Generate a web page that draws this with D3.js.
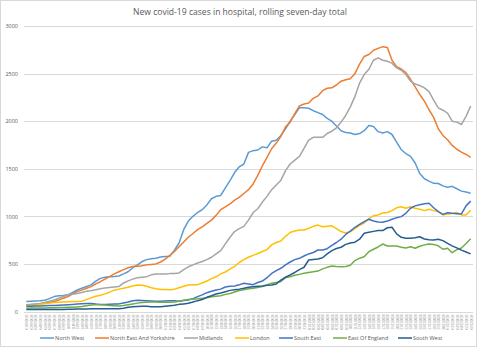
<!DOCTYPE html>
<html lang="en">
<head>
  <meta charset="UTF-8">
  <title>New covid-19 cases in hospital</title>
  <script src="https://d3js.org/d3.v7.min.js"></script>
  <style>
    body { margin: 0; background: #fff; }
    svg { display: block; font-family: "Open Sans", "Liberation Sans", sans-serif; }
    .grid line { stroke: #d9d9d9; stroke-width: 1px; }
    .line { fill: none; stroke-width: 1.5px; stroke-linejoin: round; }
  </style>
</head>
<body>
  <svg width="480" height="348"></svg>
  <script>
    // 97 daily points, rolling seven-day totals
    const startDate = '2020-09-01';
    const dayCount = 97;
    const yTicks = [0, 500, 1000, 1500, 2000, 2500, 3000];
    const regions = ['North West', 'North East And Yorkshire', 'Midlands', 'London', 'South East', 'East Of England', 'South West'];
    const colors = ['#5B9BD5', '#ED7D31', '#A5A5A5', '#FFC000', '#4472C4', '#70AD47', '#255E91'];

    const northWest = [105,108,110,112,118,135,157,165,168,175,
      200,226,245,262,280,320,348,360,366,368,
      373,395,418,460,490,525,545,555,560,572,
      578,580,645,720,860,950,1000,1040,1070,1120,
      1185,1210,1220,1300,1376,1460,1520,1550,1672,1690,
      1697,1730,1720,1790,1800,1850,1920,2000,2070,2140,
      2140,2136,2110,2090,2070,2030,2000,1950,1900,1880,
      1875,1860,1870,1900,1955,1945,1890,1875,1890,1860,
      1780,1700,1660,1630,1560,1450,1395,1370,1347,1345,
      1320,1305,1315,1290,1265,1255,1242];
    const northEastYorks = [70,72,75,82,88,95,105,120,140,157,
      185,209,225,245,261,290,313,340,366,395,
      418,440,460,472,476,480,490,495,500,520,
      550,590,630,680,730,780,820,860,890,925,
      960,1010,1070,1100,1130,1170,1200,1240,1280,1340,
      1430,1530,1620,1710,1770,1840,1940,1990,2080,2160,
      2180,2190,2240,2265,2320,2346,2350,2380,2420,2435,
      2445,2500,2600,2680,2700,2745,2765,2783,2775,2640,
      2573,2548,2510,2440,2360,2280,2210,2120,2040,1920,
      1850,1805,1745,1705,1675,1650,1620];
    const midlands = [72,75,80,85,95,108,121,140,158,173,
      182,190,200,212,219,228,238,246,252,258,
      262,300,322,340,355,360,366,385,394,394,
      394,398,400,405,440,470,490,510,525,545,
      570,605,640,710,780,840,870,895,960,1040,
      1080,1150,1210,1280,1330,1380,1480,1550,1590,1630,
      1715,1800,1830,1832,1830,1870,1895,1930,1990,2060,
      2150,2260,2400,2490,2545,2640,2665,2640,2630,2610,
      2560,2535,2490,2420,2390,2375,2350,2310,2220,2140,
      2115,2085,2000,1990,1965,2050,2160];
    const london = [55,60,65,75,82,88,95,98,100,103,
      105,106,108,125,143,161,171,185,203,224,
      235,245,255,268,278,275,266,250,238,232,
      231,228,235,250,265,279,280,282,300,320,
      345,365,395,415,445,475,515,545,570,590,
      610,630,650,700,725,741,790,830,845,857,
      857,875,895,908,890,895,900,870,840,825,
      840,870,905,930,975,1005,1015,1035,1040,1060,
      1090,1100,1085,1100,1085,1075,1060,1075,1060,1050,
      1015,1025,1030,1040,1015,1015,1065];
    const southEast = [55,56,57,58,60,62,63,65,67,70,
      74,78,82,85,84,78,74,73,75,78,
      80,90,100,112,118,115,112,110,108,107,
      110,112,112,108,115,121,135,156,175,198,
      212,226,235,258,265,268,280,296,290,282,
      305,320,355,400,430,454,490,520,545,559,
      583,605,620,646,646,660,695,725,760,810,
      845,885,915,944,969,951,940,937,950,969,
      986,997,1032,1085,1110,1122,1132,1137,1090,1049,
      1021,1038,1032,1028,1025,1110,1160];
    const eastOfEngland = [35,36,37,38,38,40,40,42,42,44,
      45,48,52,60,68,70,70,68,62,60,
      58,62,72,80,88,94,98,100,100,98,
      96,98,100,108,118,125,130,133,138,145,
      155,160,165,180,190,205,220,228,240,245,
      252,262,280,296,305,315,356,365,380,390,
      401,410,418,425,448,464,478,472,470,472,
      485,535,560,576,629,654,678,709,688,688,
      688,675,668,680,664,685,700,709,705,690,
      654,664,618,650,668,715,765];
    const southWest = [20,20,20,20,20,21,21,22,22,23,
      24,25,25,25,28,28,28,28,28,28,
      28,35,45,50,52,55,55,50,50,50,
      55,60,65,75,80,86,100,114,125,149,
      165,184,195,208,222,228,235,244,255,261,
      265,268,275,279,290,330,360,384,410,440,
      465,541,546,552,565,605,640,662,675,705,
      720,728,760,822,832,842,850,850,880,885,
      815,780,769,769,775,785,762,755,752,759,
      745,715,690,668,645,625,605];

    const seriesValues = [northWest, northEastYorks, midlands, london, southEast, eastOfEngland, southWest];

    const fmt = d3.timeFormat('%d/%m/%Y');
    const start = d3.timeParse('%Y-%m-%d')(startDate);
    const dates = d3.range(dayCount).map(i => fmt(d3.timeDay.offset(start, i)));

    const svg = d3.select('svg');
    const plotLeft = 24, plotRight = 473, plotTop = 26, plotBottom = 311.5;

    // chart border
    svg.append('rect')
      .attr('x', 0.5).attr('y', 0.5).attr('width', 476).attr('height', 346)
      .attr('fill', '#fff').attr('stroke', '#d9d9d9');

    svg.append('text')
      .attr('x', 240).attr('y', 15)
      .attr('text-anchor', 'middle')
      .attr('font-size', 8.6)
      .attr('fill', '#595959')
      .attr('textLength', 214).attr('lengthAdjust', 'spacingAndGlyphs')
      .text('New covid-19 cases in hospital, rolling seven-day total');

    const x = d3.scalePoint().domain(dates).range([plotLeft, plotRight]).padding(0.5);
    const y = d3.scaleLinear().domain([0, 3000]).range([plotBottom, plotTop]);

    const grid = svg.append('g').attr('class', 'grid');
    grid.selectAll('line')
      .data(yTicks.filter(d => d > 0))
      .join('line')
      .attr('x1', plotLeft).attr('x2', plotRight)
      .attr('y1', d => Math.round(y(d)) + 0.5).attr('y2', d => Math.round(y(d)) + 0.5);

    const yAxis = svg.append('g')
      .attr('transform', `translate(${plotLeft - 6},0)`)
      .call(d3.axisLeft(y).tickValues(yTicks).tickFormat(d3.format('d')).tickSize(0).tickPadding(0));
    yAxis.select('.domain').remove();
    yAxis.selectAll('text').attr('fill', '#595959').attr('font-size', 5.5)
      .attr('font-family', '"Open Sans", sans-serif');

    const xAxis = svg.append('g')
      .attr('transform', `translate(0,${Math.round(plotBottom) + 0.5})`)
      .call(d3.axisBottom(x).tickSize(0).tickPadding(0));
    xAxis.select('.domain').attr('stroke', '#d9d9d9').attr('d', `M${plotLeft},0H${plotRight}`);
    xAxis.selectAll('text')
      .attr('fill', '#8c8c8c')
      .attr('font-size', 4)
      .attr('font-family', '"Liberation Sans", sans-serif')
      .attr('text-anchor', 'end')
      .attr('y', 0)
      .attr('dy', '0.35em')
      .attr('transform', 'translate(0,2) rotate(-90)')
      .attr('textLength', 15).attr('lengthAdjust', 'spacingAndGlyphs');

    const line = d3.line()
      .x((d, i) => x(dates[i]))
      .y(d => y(d));

    seriesValues.forEach((vals, k) => {
      svg.append('path')
        .datum(vals)
        .attr('class', 'line')
        .attr('stroke', colors[k])
        .attr('d', line);
    });

    const legendX = [40, 95, 184, 235, 279, 333, 398];
    const legend = svg.append('g').attr('transform', 'translate(0,338)');
    regions.forEach((r, k) => {
      const g = legend.append('g').attr('transform', `translate(${legendX[k]},0)`);
      g.append('line').attr('x1', 0).attr('x2', 14).attr('y1', 0).attr('y2', 0)
        .attr('stroke', colors[k]).attr('stroke-width', 1.5);
      g.append('text').attr('x', 15).attr('y', 2)
        .attr('font-size', 5.5).attr('fill', '#595959')
        .text(r);
    });
  </script>
</body>
</html>
